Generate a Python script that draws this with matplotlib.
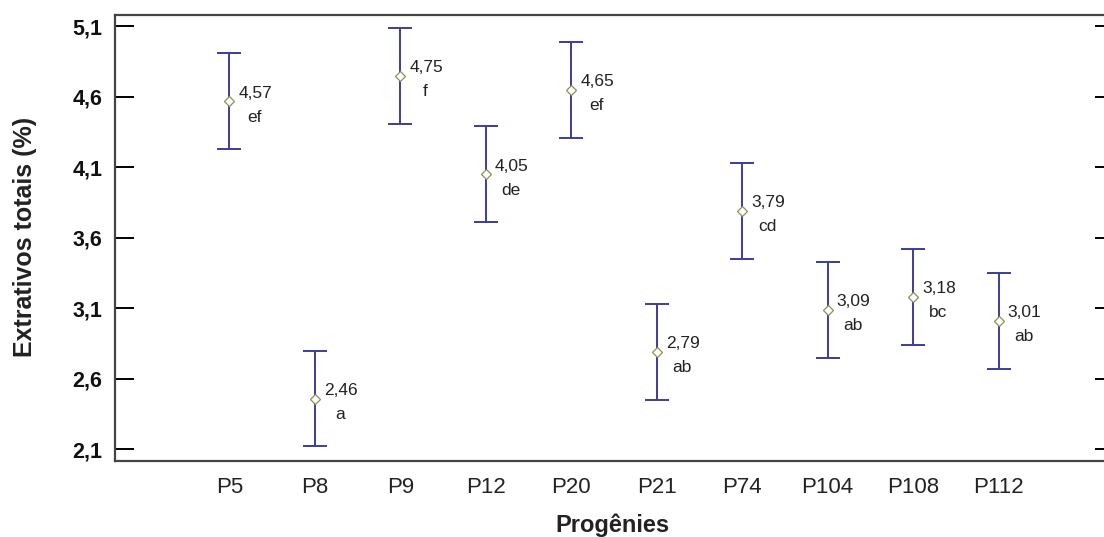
import matplotlib
matplotlib.use("Agg")
import matplotlib.pyplot as plt

plt.rcParams['font.family'] = ['Liberation Sans', 'DejaVu Sans']

progenies = ['P5', 'P8', 'P9', 'P12', 'P20', 'P21', 'P74', 'P104', 'P108', 'P112']
means = [4.57, 2.46, 4.75, 4.05, 4.65, 2.79, 3.79, 3.09, 3.18, 3.01]
half_lsd = [0.34, 0.34, 0.34, 0.34, 0.34, 0.34, 0.34, 0.34, 0.34, 0.34]
letters = ['ef', 'a', 'f', 'de', 'ef', 'ab', 'cd', 'ab', 'bc', 'ab']
y_ticks = [2.1, 2.6, 3.1, 3.6, 4.1, 4.6, 5.1]


def fmt_comma(v, nd=2):
    '''Decimal comma'''
    return f'{v:.{nd}f}'.replace('.', ',')


def main():
    fig = plt.figure(figsize=(11.04, 5.37), dpi=100)
    ax = fig.add_axes([115 / 1104, 1 - 460.7 / 537, 999 / 1104, 445.7 / 537])

    x = list(range(len(progenies)))
    ax.errorbar(x, means, yerr=half_lsd, fmt='none', ecolor='#3c3c9e',
                elinewidth=1.4, capsize=8.5, capthick=1.4, zorder=2)
    ax.plot(x, means, linestyle='none', marker='D', markersize=5,
            markerfacecolor='white', markeredgecolor='#8f8f55',
            markeredgewidth=0.9, zorder=3)

    for xi, m, lt in zip(x, means, letters):
        ax.annotate(fmt_comma(m), (xi, m), xytext=(26, 8),
                    textcoords='offset pixels', ha='center', va='center',
                    fontsize=12.5, color='#222222')
        ax.annotate(lt, (xi, m), xytext=(25, -16),
                    textcoords='offset pixels', ha='center', va='center',
                    fontsize=12.5, color='#222222')

    ax.set_xlim(-1.337, 10.35)
    ax.set_ylim(2.019, 5.180)
    ax.set_xticks(x)
    ax.set_xticklabels(progenies, fontsize=16, color='#222222')
    ax.tick_params(axis='x', length=0, pad=12)
    ax.set_yticks(y_ticks)
    ax.set_yticklabels([fmt_comma(v, 1) for v in y_ticks], fontsize=15.5,
                       fontweight='bold', color='#111111')
    ax.tick_params(axis='y', direction='in', length=14, width=1.4,
                   left=True, right=True, pad=9)

    for s in ax.spines.values():
        s.set_linewidth(1.6)
        s.set_color('#444444')

    ax.set_xlabel('Progênies', fontsize=17, fontweight='bold',
                  color='#222222')
    ax.set_ylabel('Extrativos totais (%)', fontsize=18, fontweight='bold',
                  color='#222222')
    ax.xaxis.set_label_coords(0.4975, -0.118)
    ax.yaxis.set_label_coords(-0.078, 0.502)

    fig.savefig('out.png', dpi=100)


if __name__ == '__main__':
    main()
